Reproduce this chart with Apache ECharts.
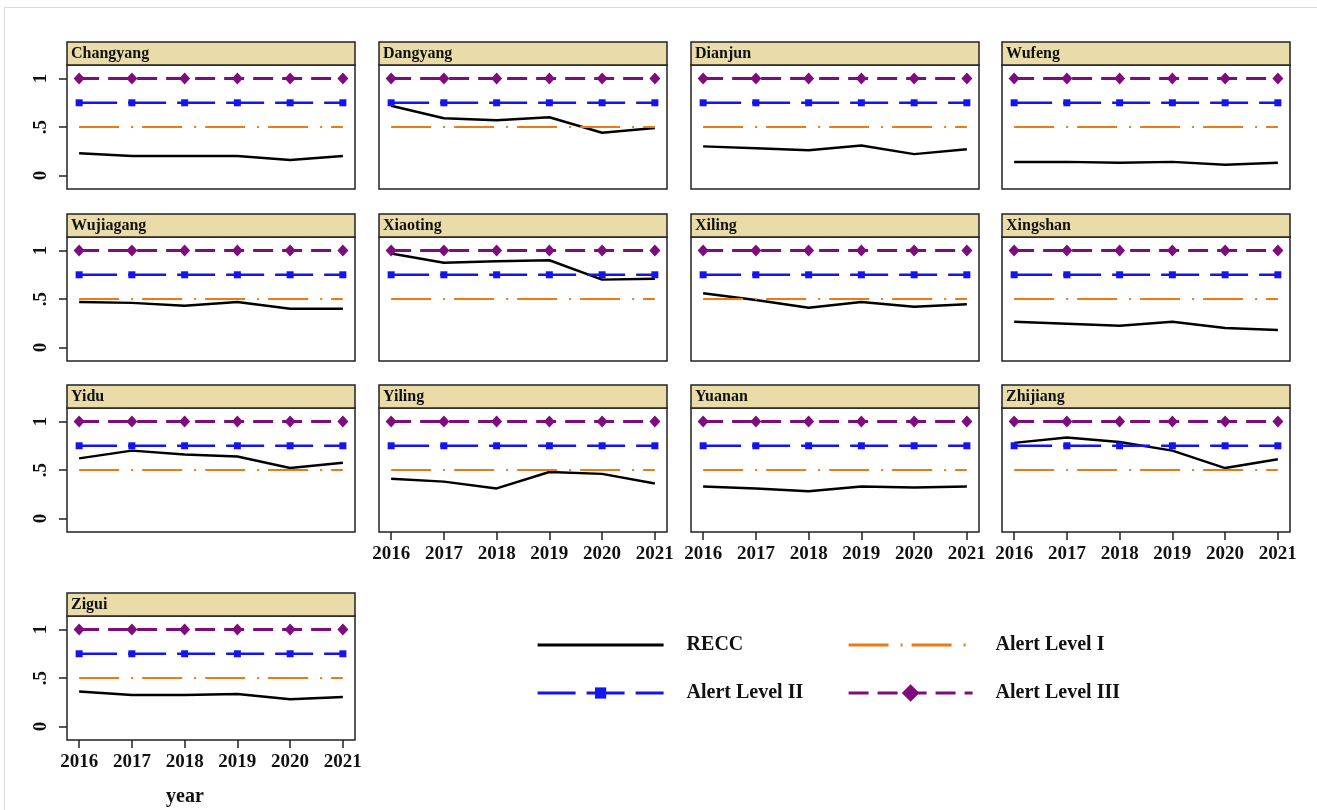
<!DOCTYPE html>
<html>
<head>
<meta charset="utf-8">
<script src="https://cdn.jsdelivr.net/npm/echarts@6/dist/echarts.min.js"></script>
<style>
  html, body { margin: 0; padding: 0; background: #ffffff; }
  #chart { width: 1317px; height: 810px; }
</style>
</head>
<body>
<div id="chart"></div>
<script>
// Years on the x axis
const years = [2016, 2017, 2018, 2019, 2020, 2021];

// Counties, in panel order
const counties = ['Changyang', 'Dangyang', 'Dianjun', 'Wufeng', 'Wujiagang', 'Xiaoting',
  'Xiling', 'Xingshan', 'Yidu', 'Yiling', 'Yuanan', 'Zhijiang', 'Zigui'];

// RECC index per county, 2016-2021
const reccChangyang = [0.23, 0.20, 0.20, 0.20, 0.16, 0.20];
const reccDangyang  = [0.72, 0.59, 0.57, 0.60, 0.44, 0.49];
const reccDianjun   = [0.30, 0.28, 0.26, 0.31, 0.22, 0.27];
const reccWufeng    = [0.14, 0.14, 0.13, 0.14, 0.11, 0.13];
const reccWujiagang = [0.47, 0.46, 0.43, 0.47, 0.40, 0.40];
const reccXiaoting  = [0.97, 0.875, 0.89, 0.90, 0.70, 0.71];
const reccXiling    = [0.56, 0.49, 0.41, 0.47, 0.42, 0.445];
const reccXingshan  = [0.265, 0.245, 0.225, 0.265, 0.20, 0.18];
const reccYidu      = [0.62, 0.70, 0.66, 0.64, 0.52, 0.575];
const reccYiling    = [0.41, 0.38, 0.31, 0.48, 0.46, 0.36];
const reccYuanan    = [0.33, 0.31, 0.28, 0.33, 0.32, 0.33];
const reccZhijiang  = [0.78, 0.835, 0.79, 0.70, 0.52, 0.61];
const reccZigui     = [0.36, 0.325, 0.325, 0.335, 0.28, 0.305];

// Alert thresholds
const alertLevelI   = [0.5, 0.5, 0.5, 0.5, 0.5, 0.5];
const alertLevelII  = [0.75, 0.75, 0.75, 0.75, 0.75, 0.75];
const alertLevelIII = [1, 1, 1, 1, 1, 1];

// Y tick values and their labels
const yTicks = [0, 0.5, 1];
const yTickLabels = ['0', '.5', '1'];

const reccByCounty = [reccChangyang, reccDangyang, reccDianjun, reccWufeng, reccWujiagang,
  reccXiaoting, reccXiling, reccXingshan, reccYidu, reccYiling, reccYuanan, reccZhijiang, reccZigui];

// Panel layout (pixels)
const colLeft = [67, 379, 691, 1002];
const boxTop = [65, 237, 408, 616];
const panelW = 288;
const boxH = 124;
const headerH = 23;

const serif = '"Liberation Serif", "Times New Roman", serif';
const ink = '#111111';

const C_RECC = '#000000';
const C_I = '#EC7A14';
const C_II = '#1414F2';
const C_III = '#7E0C7E';

const grids = [], xAxes = [], yAxes = [], series = [], graphics = [];

graphics.push({
  type: 'rect', z: -10, silent: true,
  shape: { x: 4.5, y: 7.5, width: 1400, height: 900 },
  style: { fill: 'none', stroke: '#dadada', lineWidth: 1 }
});

counties.forEach(function (name, i) {
  const r = Math.floor(i / 4), c = i % 4;
  const showX = i + 4 >= counties.length;
  const showY = c === 0;

  grids.push({
    left: colLeft[c], top: boxTop[r], width: panelW, height: boxH,
    show: true, backgroundColor: '#ffffff', borderColor: '#222222', borderWidth: 1.5,
    containLabel: false, outerBoundsMode: 'none'
  });

  xAxes.push({
    type: 'value', gridIndex: i, position: 'bottom', min: 2015.77, max: 2021.23,
    axisLine: { show: false, onZero: false }, splitLine: { show: false },
    axisTick: { show: showX, inside: false, customValues: years, length: 8, lineStyle: { color: '#222', width: 1.5 } },
    axisLabel: {
      show: showX, customValues: years, margin: 13,
      formatter: function (v) { return String(v); },
      fontFamily: serif, fontWeight: 'bold', fontSize: 19, color: ink
    }
  });

  yAxes.push({
    type: 'value', gridIndex: i, position: 'left', min: -0.14, max: 1.14,
    axisLine: { show: false, onZero: false }, splitLine: { show: false },
    axisTick: { show: showY, inside: false, customValues: yTicks, length: 8, lineStyle: { color: '#222', width: 1.5 } },
    axisLabel: {
      show: showY, customValues: yTicks, rotate: 90, margin: 16,
      formatter: function (v) { return yTickLabels[yTicks.indexOf(v)]; },
      fontFamily: serif, fontWeight: 'bold', fontSize: 19, color: ink
    }
  });

  const pts = function (arr) { return years.map(function (y, k) { return [y, arr[k]]; }); };
  const base = { type: 'line', xAxisIndex: i, yAxisIndex: i, silent: true, animation: false, emphasis: { disabled: true } };

  series.push(Object.assign({}, base, {
    name: 'RECC', data: pts(reccByCounty[i]), symbol: 'none', z: 2,
    lineStyle: { color: C_RECC, width: 2.5 }, itemStyle: { color: C_RECC }
  }));
  series.push(Object.assign({}, base, {
    name: 'Alert Level I', data: pts(alertLevelI), symbol: 'none', z: 3,
    lineStyle: { color: C_I, width: 2.2, type: [40, 12, 2, 9] }, itemStyle: { color: C_I }
  }));
  series.push(Object.assign({}, base, {
    name: 'Alert Level II', data: pts(alertLevelII), symbol: 'rect', symbolSize: 7, z: 4,
    lineStyle: { color: C_II, width: 2.5, type: [38, 11] }, itemStyle: { color: C_II }
  }));
  series.push(Object.assign({}, base, {
    name: 'Alert Level III', data: pts(alertLevelIII), symbol: 'diamond', symbolSize: [11, 12], z: 5,
    lineStyle: { color: C_III, width: 3, type: [20, 9] }, itemStyle: { color: C_III }
  }));

  // Title strip above each panel
  graphics.push({
    type: 'rect', silent: true,
    shape: { x: colLeft[c], y: boxTop[r] - headerH, width: panelW, height: headerH },
    style: { fill: '#E9DCA8', stroke: '#222222', lineWidth: 1.5 }
  });
  graphics.push({
    type: 'text', silent: true,
    x: colLeft[c] + 4, y: boxTop[r] - headerH / 2,
    style: { text: name, font: 'bold 16px ' + serif, fill: ink, verticalAlign: 'middle', textAlign: 'left' }
  });
});

// Shared x axis title
graphics.push({
  type: 'text', silent: true, x: 185, y: 797,
  style: { text: 'year', font: 'bold 20px ' + serif, fill: ink, textAlign: 'center', verticalAlign: 'middle' }
});

const legendText = { fontFamily: serif, fontWeight: 'bold', fontSize: 20, color: ink, lineHeight: 24, padding: [0, 0, 0, 18] };

const option = {
  backgroundColor: '#ffffff',
  animation: false,
  grid: grids,
  xAxis: xAxes,
  yAxis: yAxes,
  series: series,
  legend: [
    {
      left: 536, top: 633, padding: 0, orient: 'vertical', itemWidth: 126, itemHeight: 14, itemGap: 24,
      selectedMode: false, textStyle: legendText, lineStyle: { width: 3.2 },
      data: [{ name: 'RECC', itemStyle: { opacity: 0 } }, 'Alert Level II']
    },
    {
      left: 847, top: 633, padding: 0, orient: 'vertical', itemWidth: 124, itemHeight: 22, itemGap: 24,
      selectedMode: false, textStyle: legendText, lineStyle: { width: 3.2 },
      data: [{ name: 'Alert Level I', itemStyle: { opacity: 0 } }, 'Alert Level III']
    }
  ],
  graphic: graphics
};

const chart = echarts.init(document.getElementById('chart'), null, { renderer: 'canvas' });
chart.setOption(option);
</script>
</body>
</html>
